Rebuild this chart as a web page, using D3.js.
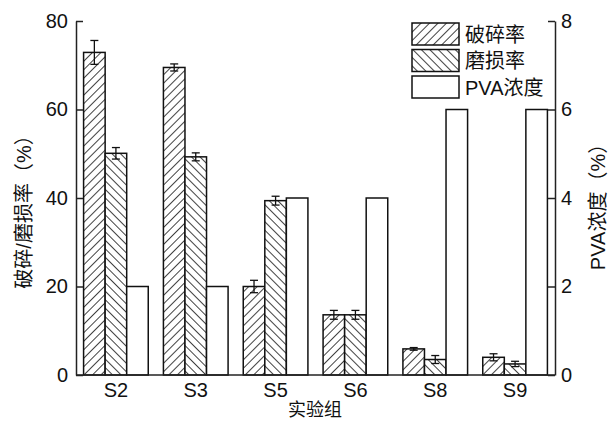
<!DOCTYPE html>
<html>
<head>
<meta charset="utf-8">
<script src="https://cdn.jsdelivr.net/npm/d3@7"></script>
<style>
  body { margin: 0; background: #fff; }
  text { font-family: "Liberation Sans", Arial, "Noto Sans CJK SC", sans-serif; fill: #111; }
</style>
</head>
<body>
<div id="app"></div>
<script>
// data
const groups = ["S2", "S3", "S5", "S6", "S8", "S9"];
const breakRate = [72.9, 69.5, 20.0, 13.6, 5.9, 4.0];      // 破碎率
const breakErr  = [2.7, 0.8, 1.4, 1.0, 0.3, 0.8];
const wearRate  = [50.1, 49.3, 39.4, 13.6, 3.5, 2.5];      // 磨损率
const wearErr   = [1.3, 0.9, 1.0, 1.0, 0.9, 0.6];
const pva       = [2, 2, 4, 4, 6, 6];                       // PVA浓度
const leftTicks = [0, 20, 40, 60, 80];
const rightTicks = [0, 2, 4, 6, 8];
const seriesNames = ["破碎率", "磨损率", "PVA浓度"];

const W = 611, H = 421;
const margin = {top: 21, right: 56, bottom: 46, left: 76};
const x0 = margin.left, x1 = W - margin.right;
const yTop = margin.top, yBot = H - margin.bottom;
const fs = 20;

const svg = d3.select("#app").append("svg")
    .attr("width", W).attr("height", H);

// hatch patterns
const defs = svg.append("defs");
function hatch(id, angle) {
  const p = defs.append("pattern")
      .attr("id", id)
      .attr("patternUnits", "userSpaceOnUse")
      .attr("width", 6).attr("height", 6)
      .attr("patternTransform", `rotate(${angle})`);
  p.append("rect").attr("width", 6).attr("height", 6).attr("fill", "#fff");
  p.append("line").attr("x1", 0).attr("y1", 0).attr("x2", 0).attr("y2", 6)
      .attr("stroke", "#111").attr("stroke-width", 1.6);
}
hatch("h1", 45);
hatch("h2", -45);
const fills = ["url(#h1)", "url(#h2)", "#fff"];

const x = d3.scaleBand().domain(groups).range([x0, x1])
    .paddingInner(0.19).paddingOuter(0.095);
const xs = d3.scaleBand().domain([0, 1, 2]).range([0, x.bandwidth()]);
const yL = d3.scaleLinear().domain([0, 80]).range([yBot, yTop]);
const yR = d3.scaleLinear().domain([0, 8]).range([yBot, yTop]);

const rows = groups.map((g, i) => [
  {g, k: 0, v: breakRate[i], e: breakErr[i], y: yL},
  {g, k: 1, v: wearRate[i], e: wearErr[i], y: yL},
  {g, k: 2, v: pva[i], e: 0, y: yR}
]).flat();

svg.append("g").selectAll("rect")
  .data(rows)
  .join("rect")
    .attr("x", d => x(d.g) + xs(d.k))
    .attr("y", d => d.y(d.v))
    .attr("width", xs.bandwidth())
    .attr("height", d => yBot - d.y(d.v))
    .attr("fill", d => fills[d.k])
    .attr("stroke", "#111")
    .attr("stroke-width", 1.5);

// error bars
const eb = svg.append("g").attr("stroke", "#111").attr("stroke-width", 1.3)
  .selectAll("g").data(rows.filter(d => d.e > 0)).join("g")
    .attr("transform", d => `translate(${x(d.g) + xs(d.k) + xs.bandwidth() / 2},0)`);
eb.append("line").attr("y1", d => yL(d.v + d.e)).attr("y2", d => yL(d.v - d.e));
eb.append("line").attr("x1", -4).attr("x2", 4)
    .attr("y1", d => yL(d.v + d.e)).attr("y2", d => yL(d.v + d.e));
eb.append("line").attr("x1", -4).attr("x2", 4)
    .attr("y1", d => yL(d.v - d.e)).attr("y2", d => yL(d.v - d.e));

// axes
const axL = svg.append("g").attr("transform", `translate(${x0},0)`)
    .call(d3.axisLeft(yL).tickValues(leftTicks).tickSize(-7).tickPadding(8).tickSizeOuter(0));
const axR = svg.append("g").attr("transform", `translate(${x1},0)`)
    .call(d3.axisRight(yR).tickValues(rightTicks).tickSize(-7).tickPadding(6).tickSizeOuter(0));
const axB = svg.append("g").attr("transform", `translate(0,${yBot})`)
    .call(d3.axisBottom(x).tickSize(0).tickPadding(8).tickSizeOuter(0));
axB.select(".domain").attr("d", `M${x0},0H${x1}`);

[axL, axR, axB].forEach(a => {
  a.select(".domain").attr("stroke", "#222").attr("stroke-width", 1.5);
  a.selectAll(".tick line").attr("stroke", "#222").attr("stroke-width", 1.5);
  a.selectAll("text").attr("font-size", fs).attr("fill", "#111")
    .style("font-family", "'Liberation Sans', Arial, sans-serif");
});

// axis titles
svg.append("text")
    .attr("transform", `translate(31,207) rotate(-90)`)
    .attr("text-anchor", "middle")
    .attr("font-size", fs)
    .text("破碎/磨损率（%）");
svg.append("text")
    .attr("transform", `translate(605,202) rotate(-90)`)
    .attr("text-anchor", "middle")
    .attr("font-size", fs)
    .text("PVA浓度（%）");
svg.append("text")
    .attr("x", 315).attr("y", 416)
    .attr("text-anchor", "middle")
    .attr("font-size", 18)
    .attr("fill", "#444")
    .text("实验组");

// legend
const lg = svg.append("g").attr("transform", "translate(412,23)");
const li = lg.selectAll("g").data(seriesNames).join("g")
    .attr("transform", (d, i) => `translate(0,${i * 26.5})`);
li.append("rect").attr("width", 47).attr("height", 22)
    .attr("fill", (d, i) => fills[i]).attr("stroke", "#111").attr("stroke-width", 1.5);
li.append("text").attr("x", 53).attr("y", 18.5)
    .attr("font-size", fs).text(d => d);
</script>
</body>
</html>
